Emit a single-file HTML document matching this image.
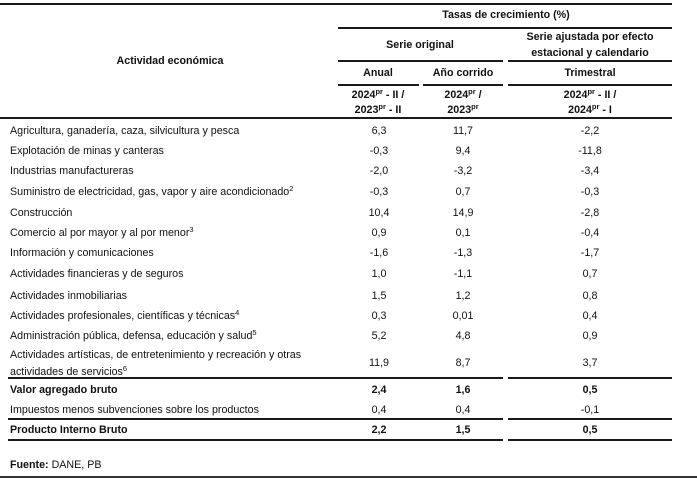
<!DOCTYPE html>
<html>
<head>
<meta charset="utf-8">
<style>
  html,body{margin:0;padding:0;background:#fff;}
  body{width:697px;height:478px;position:relative;overflow:hidden;
       font-family:"Liberation Sans",Arial,sans-serif;font-size:10.7px;color:#111;}
  .ln{position:absolute;background:#1a1a1a;height:2px;}
  .t{position:absolute;white-space:nowrap;line-height:16px;height:16px;}
  .c{transform:translateX(-50%);text-align:center;}
  .b{font-weight:bold;}
  sup{font-size:7.5px;line-height:0;vertical-align:0;position:relative;top:-4.5px;}
  .r{top:1px;position:absolute;left:0;right:0;top:1px;}
</style>
</head>
<body>
<!-- header lines -->
<div class="ln" style="left:0;top:3px;width:672px;"></div>
<div class="ln" style="left:338px;top:27px;width:334px;"></div>
<div class="ln" style="left:338px;top:60px;width:165px;"></div>
<div class="ln" style="left:508px;top:60px;width:164px;"></div>
<div class="ln" style="left:338px;top:84px;width:81px;"></div>
<div class="ln" style="left:423px;top:84px;width:80px;"></div>
<div class="ln" style="left:508px;top:84px;width:164px;"></div>
<div class="ln" style="left:0;top:117px;width:672px;"></div>

<!-- body lines -->
<div class="ln" style="left:8px;top:377px;width:495px;"></div>
<div class="ln" style="left:508px;top:377px;width:164px;"></div>
<div class="ln" style="left:8px;top:418px;width:495px;"></div>
<div class="ln" style="left:508px;top:418px;width:164px;"></div>
<div class="ln" style="left:8px;top:439px;width:495px;"></div>
<div class="ln" style="left:508px;top:439px;width:164px;"></div>

<!-- bottom border -->
<div class="ln" style="left:0;top:476px;width:697px;background:#333;"></div>

<!-- header text -->
<div class="t b c" style="left:170px;top:53px;">Actividad económica</div>
<div class="t b c" style="left:506px;top:7px;">Tasas de crecimiento (%)</div>
<div class="t b c" style="left:420px;top:37px;">Serie original</div>
<div class="t b c" style="left:590px;top:29px;">Serie ajustada por efecto</div>
<div class="t b c" style="left:590px;top:45px;">estacional y calendario</div>
<div class="t b c" style="left:378px;top:65px;">Anual</div>
<div class="t b c" style="left:463px;top:65px;">Año corrido</div>
<div class="t b c" style="left:590px;top:65px;">Trimestral</div>
<div class="t b c" style="left:378px;top:87px;">2024<sup>pr</sup> - II /</div>
<div class="t b c" style="left:378px;top:102px;">2023<sup>pr</sup> - II</div>
<div class="t b c" style="left:463px;top:87px;">2024<sup>pr</sup> /</div>
<div class="t b c" style="left:463px;top:102px;">2023<sup>pr</sup></div>
<div class="t b c" style="left:590px;top:87px;">2024<sup>pr</sup> - II /</div>
<div class="t b c" style="left:590px;top:102px;">2024<sup>pr</sup> - I</div>

<!-- rows -->
<div class="t" style="left:10px;top:123px;">Agricultura, ganadería, caza, silvicultura y pesca</div>
<div class="t c" style="left:379px;top:123px;">6,3</div>
<div class="t c" style="left:463px;top:123px;">11,7</div>
<div class="t c" style="left:590px;top:123px;">-2,2</div>

<div class="t" style="left:10px;top:143px;">Explotación de minas y canteras</div>
<div class="t c" style="left:379px;top:143px;">-0,3</div>
<div class="t c" style="left:463px;top:143px;">9,4</div>
<div class="t c" style="left:590px;top:143px;">-11,8</div>

<div class="t" style="left:10px;top:163px;">Industrias manufactureras</div>
<div class="t c" style="left:379px;top:163px;">-2,0</div>
<div class="t c" style="left:463px;top:163px;">-3,2</div>
<div class="t c" style="left:590px;top:163px;">-3,4</div>

<div class="t" style="left:10px;top:184px;">Suministro de electricidad, gas, vapor y aire acondicionado<sup>2</sup></div>
<div class="t c" style="left:379px;top:184px;">-0,3</div>
<div class="t c" style="left:463px;top:184px;">0,7</div>
<div class="t c" style="left:590px;top:184px;">-0,3</div>

<div class="t" style="left:10px;top:205px;">Construcción</div>
<div class="t c" style="left:379px;top:205px;">10,4</div>
<div class="t c" style="left:463px;top:205px;">14,9</div>
<div class="t c" style="left:590px;top:205px;">-2,8</div>

<div class="t" style="left:10px;top:225px;">Comercio al por mayor y al por menor<sup>3</sup></div>
<div class="t c" style="left:379px;top:225px;">0,9</div>
<div class="t c" style="left:463px;top:225px;">0,1</div>
<div class="t c" style="left:590px;top:225px;">-0,4</div>

<div class="t" style="left:10px;top:245px;">Información y comunicaciones</div>
<div class="t c" style="left:379px;top:245px;">-1,6</div>
<div class="t c" style="left:463px;top:245px;">-1,3</div>
<div class="t c" style="left:590px;top:245px;">-1,7</div>

<div class="t" style="left:10px;top:266px;">Actividades financieras y de seguros</div>
<div class="t c" style="left:379px;top:266px;">1,0</div>
<div class="t c" style="left:463px;top:266px;">-1,1</div>
<div class="t c" style="left:590px;top:266px;">0,7</div>

<div class="t" style="left:10px;top:288px;">Actividades inmobiliarias</div>
<div class="t c" style="left:379px;top:288px;">1,5</div>
<div class="t c" style="left:463px;top:288px;">1,2</div>
<div class="t c" style="left:590px;top:288px;">0,8</div>

<div class="t" style="left:10px;top:308px;">Actividades profesionales, científicas y técnicas<sup>4</sup></div>
<div class="t c" style="left:379px;top:308px;">0,3</div>
<div class="t c" style="left:463px;top:308px;">0,01</div>
<div class="t c" style="left:590px;top:308px;">0,4</div>

<div class="t" style="left:10px;top:328px;">Administración pública, defensa, educación y salud<sup>5</sup></div>
<div class="t c" style="left:379px;top:328px;">5,2</div>
<div class="t c" style="left:463px;top:328px;">4,8</div>
<div class="t c" style="left:590px;top:328px;">0,9</div>

<div class="t" style="left:10px;top:347px;">Actividades artísticas, de entretenimiento y recreación y otras</div>
<div class="t" style="left:10px;top:364px;">actividades de servicios<sup>6</sup></div>
<div class="t c" style="left:379px;top:355px;">11,9</div>
<div class="t c" style="left:463px;top:355px;">8,7</div>
<div class="t c" style="left:590px;top:355px;">3,7</div>

<div class="t b" style="left:10px;top:382px;">Valor agregado bruto</div>
<div class="t b c" style="left:379px;top:382px;">2,4</div>
<div class="t b c" style="left:463px;top:382px;">1,6</div>
<div class="t b c" style="left:590px;top:382px;">0,5</div>

<div class="t" style="left:10px;top:402px;">Impuestos menos subvenciones sobre los productos</div>
<div class="t c" style="left:379px;top:402px;">0,4</div>
<div class="t c" style="left:463px;top:402px;">0,4</div>
<div class="t c" style="left:590px;top:402px;">-0,1</div>

<div class="t b" style="left:10px;top:422px;">Producto Interno Bruto</div>
<div class="t b c" style="left:379px;top:422px;">2,2</div>
<div class="t b c" style="left:463px;top:422px;">1,5</div>
<div class="t b c" style="left:590px;top:422px;">0,5</div>

<div class="t" style="left:10px;top:457px;"><b>Fuente:</b> DANE, PB</div>
</body>
</html>
